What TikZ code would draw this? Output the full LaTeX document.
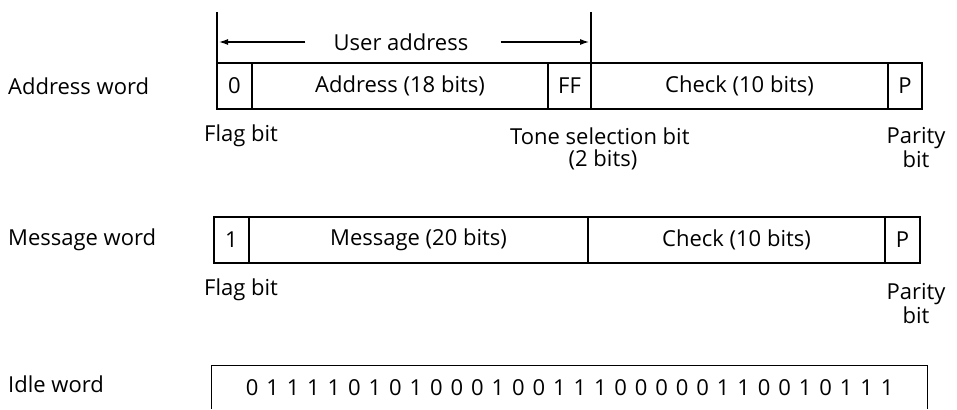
\documentclass[tikz,border=0pt]{standalone}
\usepackage{fontspec}
\setmainfont{Open Sans}
\usetikzlibrary{arrows.meta}
\newcommand\fs{\fontsize{22}{24}\selectfont}
\tikzset{
  field/.style={draw, line width=1.2pt, minimum height=46pt, inner sep=0pt, outer sep=0pt, anchor=west, font=\fs},
  lbl/.style={inner sep=0pt, font=\fs},
  thin/.style={line width=1.2pt},
  arr/.style={line width=1.2pt, -{Latex[length=9pt,width=6pt]}}
}
\begin{document}
\begin{tikzpicture}[x=1pt,y=-1pt]
\useasboundingbox (0,0) rectangle (957,409);
% left labels
\node[lbl, anchor=west] (lab1) at (8,86) {Address word};
\node[lbl, anchor=west] (lab2) at (8,240) {Message word};
\node[lbl, anchor=west] (lab3) at (8,384) {Idle word};
% address word
\node[field, minimum width=35pt] (af) at (217,86) {0};
\node[field, minimum width=296pt] (aa) at (af.east) {Address (18 bits)};
\node[field, minimum width=43pt] (aff) at (aa.east) {FF};
\node[field, minimum width=297pt] (ac) at (aff.east) {Check (10 bits)};
\node[field, minimum width=34pt] (ap) at (ac.east) {P};
% user address bracket
\coordinate (t1) at (217,12);
\coordinate (t2) at (591,12);
\draw[thin] (t1) -- (af.north west);
\draw[thin] (t2) -- (ac.north west);
\node[lbl] (ua) at (401,42) {User address};
\coordinate (al) at (219,42);
\coordinate (ar) at (589,42);
\draw[arr] ([xshift=-28pt]ua.west) -- (al);
\draw[arr] ([xshift=32pt]ua.east) -- (ar);
% address annotations
\node[lbl, anchor=west] (fl1) at (204,136) {Flag bit};
\node[lbl, anchor=west] (ts1) at (510,136) {Tone selection bit};
\node[lbl] (ts2) at (603,160) {(2 bits)};
\node[lbl, align=center] (pa1) at (916,148) {Parity\\bit};
% message word
\node[field, minimum width=35pt] (mf) at (214,240) {1};
\node[field, minimum width=339pt] (mm) at (mf.east) {Message (20 bits)};
\node[field, minimum width=297pt] (mc) at (mm.east) {Check (10 bits)};
\node[field, minimum width=35pt] (mp) at (mc.east) {P};
\node[lbl, anchor=west] (fl2) at (204,290) {Flag bit};
\node[lbl, align=center] (pa2) at (916,304) {Parity\\bit};
% idle word
\node[lbl, minimum width=715pt, minimum height=43pt] (idle) at (569.5,387.5) {\spaceskip=7.9pt 0 1 1 1 1 0 1 0 1 0 0 0 1 0 0 1 1 1 0 0 0 0 0 1 1 0 0 1 0 1 1 1};
\draw[thin] (idle.south west) |- (idle.north east) -- (idle.south east);
\end{tikzpicture}
\end{document}
